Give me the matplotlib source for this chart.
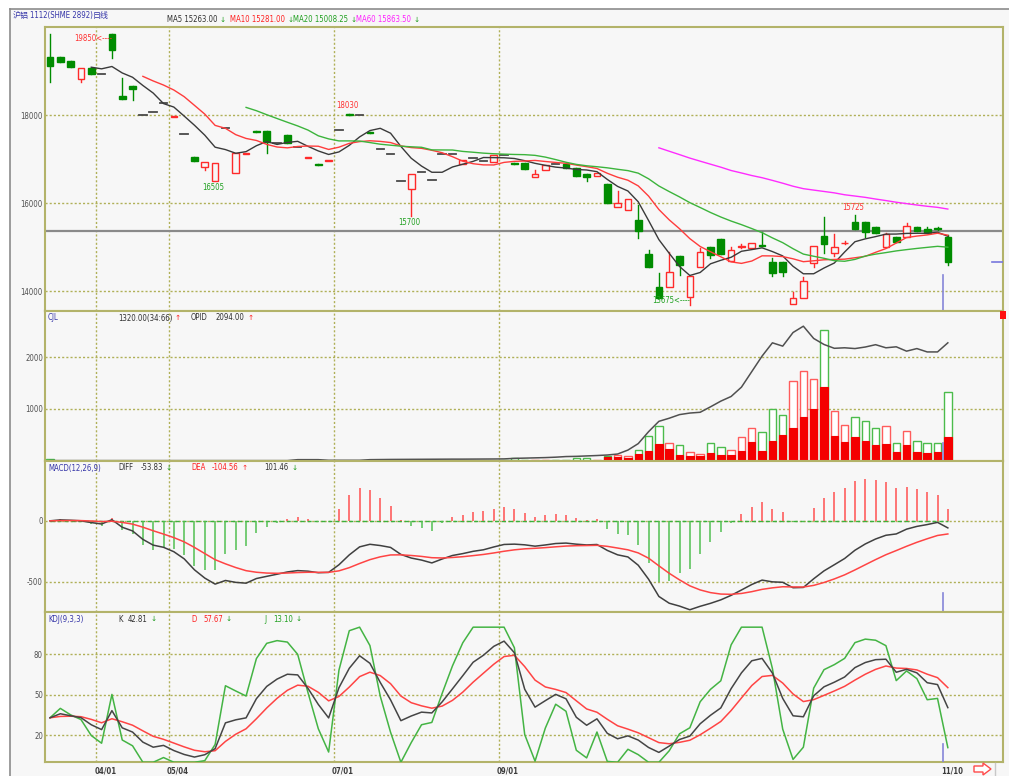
import numpy as np
import matplotlib
matplotlib.use('Agg')
import matplotlib.pyplot as plt
from matplotlib import font_manager
from matplotlib.patches import Rectangle, Polygon
from matplotlib.lines import Line2D
import matplotlib.transforms as mtransforms

# ---------------- data ----------------
opens = [19325, 19325, 19234, 18811, 19061, 18930, 19850, 18432, 18659, 18000,
         18068, 18280, 17950, 17561, 17052, 16818, 16505, 17700, 16689, 17120,
         17630, 17643, 17370, 17545, 17266, 17020, 16890, 16950, 17660, 18030,
         18000, 17610, 17227, 17106, 16507, 16311, 16698, 16523, 17106, 17106,
         16880, 17020, 16960, 16925, 17091, 16910, 16902, 16584, 16750, 16886,
         16886, 16789, 16652, 16614, 16432, 15902, 15841, 15614, 14834, 14098,
         14098, 14795, 13870, 14552, 14993, 15189, 14689, 15000, 14970, 15045,
         14652, 14652, 13705, 13834, 14643, 15250, 14857, 15080, 15575, 15575,
         15448, 15007, 15234, 15220, 15461, 15409, 15430, 15220]
highs = [19841, 19325, 19234, 19075, 19061, 18930, 19850, 18834, 18659, 18000,
         18068, 18280, 17970, 17561, 17052, 16939, 16916, 17700, 17143, 17140,
         17630, 17643, 17370, 17545, 17266, 17040, 16890, 16970, 17660, 18030,
         18000, 17610, 17227, 17106, 16507, 16659, 16698, 16523, 17106, 17106,
         16977, 17020, 16960, 17091, 17091, 16910, 16902, 16750, 16864, 16886,
         16886, 16789, 16652, 16675, 16432, 16280, 16091, 15955, 14932, 14402,
         14893, 14795, 14348, 14970, 14993, 15189, 15000, 15060, 15084, 15348,
         14743, 14652, 13984, 14325, 15023, 15675, 15300, 15140, 15725, 15575,
         15448, 15325, 15234, 15545, 15461, 15460, 15460, 15273]
lows = [18757, 19211, 19098, 18743, 18932, 18930, 19289, 18364, 18341, 18000,
        18068, 18280, 17950, 17561, 16955, 16750, 16505, 17700, 16689, 17120,
        17610, 17143, 17370, 17370, 17266, 17020, 16870, 16950, 17660, 18010,
        18000, 17590, 17227, 17106, 16507, 15700, 16698, 16523, 17106, 17106,
        16880, 17020, 16960, 16925, 17091, 16895, 16773, 16584, 16750, 16886,
        16789, 16614, 16507, 16614, 16007, 15902, 15841, 15198, 14552, 13834,
        14098, 14364, 13675, 14552, 14743, 14841, 14689, 14970, 14970, 15020,
        14341, 14341, 13705, 13834, 14552, 14857, 14800, 15060, 15402, 15220,
        15325, 15007, 15107, 15220, 15364, 15325, 15390, 14590]
closes = [19114, 19211, 19098, 19075, 18932, 18930, 19477, 18364, 18584, 18000,
          18068, 18280, 17970, 17561, 16955, 16939, 16916, 17700, 17143, 17140,
          17610, 17393, 17370, 17370, 17266, 17040, 16870, 16970, 17660, 18010,
          18000, 17590, 17227, 17106, 16507, 16659, 16698, 16523, 17106, 17106,
          16977, 17020, 16960, 17091, 17091, 16895, 16773, 16659, 16864, 16886,
          16789, 16614, 16598, 16675, 16007, 15993, 16091, 15370, 14552, 13834,
          14439, 14591, 14348, 14893, 14818, 14841, 14932, 15030, 15084, 15020,
          14416, 14439, 13848, 14234, 15023, 15068, 15007, 15100, 15402, 15348,
          15325, 15289, 15107, 15477, 15364, 15325, 15400, 14652]
volume = [40, 3, 3, 3, 3, 3, 3, 3, 3, 3,
          3, 3, 3, 3, 3, 3, 3, 3, 3, 3,
          3, 3, 3, 3, 3, 3, 3, 3, 3, 3,
          3, 3, 3, 3, 3, 3, 3, 3, 3, 3,
          3, 3, 3, 3, 12, 45, 8, 8, 8, 8,
          8, 45, 45, 20, 96, 109, 90, 212, 468, 667,
          333, 301, 167, 135, 333, 256, 205, 449, 635, 545,
          1006, 891, 1532, 1724, 1577, 2532, 968, 686, 853, 769,
          628, 673, 340, 571, 378, 346, 333, 1320]
vol_red = [0] * 54 + [64, 70, 45, 128, 192, 314,
                      231, 115, 83, 96, 154, 103, 109, 180, 365, 180,
                      385, 487, 641, 846, 1006, 1417, 468, 353, 449, 385,
                      301, 314, 173, 301, 173, 141, 173, 449]
open_interest = [2] * 24 + [20, 20, 20, 8, 8, 8, 8,
                            20, 22, 24, 25, 26, 27, 28, 29, 30, 30, 31, 32, 33,
                            35, 45, 50, 55, 60, 68, 80, 84, 92, 100,
                            110, 129, 205, 330, 560, 760, 820, 890, 920, 935,
                            1040, 1150, 1240, 1420, 1720, 2020, 2276, 2212, 2475, 2597,
                            2360, 2244, 2170, 2180, 2165, 2195, 2240, 2180, 2199, 2115,
                            2165, 2100, 2100, 2276]
ref_price = 15360
last_price = 14659
month_labels = ['04/01', '05/04', '07/01', '09/01', '11/10']
month_start_idx = [5, 12, 28, 44, 87]
price_ticks = [14000, 16000, 18000]
vol_ticks = [1000, 2000]
macd_ticks = [-500, 0]
kdj_ticks = [20, 50, 80]
title_parts = ['沪铝', '1112(SHME 2892)', '日线']
ma_header = ['MA5 15263.00', 'MA10 15281.00', 'MA20 15008.25', 'MA60 15863.50']
vol_header = ['CJL', '1320.00(34:66)', 'OPID', '2094.00']
macd_header = ['MACD(12,26,9)', 'DIFF', '-53.83', 'DEA', '-104.56', '101.46']
kdj_header = ['KDJ(9,3,3)', 'K', '42.81', 'D', '57.67', 'J', '13.10']
# extreme-price notes: (bar index, 'high'/'low')
price_notes = [(6, 'high'), (16, 'low'), (29, 'high'), (35, 'low'), (62, 'low'), (78, 'high')]

# ---------------- indicators ----------------
O = np.array(opens, float); Hh = np.array(highs, float)
Ll = np.array(lows, float); C = np.array(closes, float)
n = len(C)
x = np.arange(n)


def sma(a, k):
    out = np.full(len(a), np.nan)
    for i in range(k - 1, len(a)):
        out[i] = a[i - k + 1:i + 1].mean()
    return out


def ema(a, k):
    al = 2.0 / (k + 1)
    out = np.empty(len(a)); out[0] = a[0]
    for i in range(1, len(a)):
        out[i] = al * a[i] + (1 - al) * out[i - 1]
    return out


ma5, ma10, ma20, ma60 = sma(C, 5), sma(C, 10), sma(C, 20), sma(C, 60)
diff = ema(C, 12) - ema(C, 26)
dea = ema(diff, 9)
hist = 2 * (diff - dea)
rsv = np.empty(n)
for i in range(n):
    lo = Ll[max(0, i - 8):i + 1].min(); hi = Hh[max(0, i - 8):i + 1].max()
    rsv[i] = 50.0 if hi == lo else (C[i] - lo) / (hi - lo) * 100
K = np.empty(n); D = np.empty(n)
K[0] = D[0] = rsv[0]
for i in range(1, n):
    K[i] = (2 * K[i - 1] + rsv[i]) / 3
    D[i] = (2 * D[i - 1] + K[i]) / 3
J = np.clip(3 * K - 2 * D, 0, 100)

# ---------------- fonts ----------------
entries = font_manager.fontManager.ttflist


def has_font(name, cond=False):
    for e in entries:
        if e.name == name and (not cond or 'condensed' in str(e.stretch)):
            return True
    return False


if has_font('Liberation Sans Narrow'):
    FNAME, STRETCH = 'Liberation Sans Narrow', 'normal'
elif has_font('DejaVu Sans', cond=True):
    FNAME, STRETCH = 'DejaVu Sans', 'condensed'
elif has_font('Liberation Sans'):
    FNAME, STRETCH = 'Liberation Sans', 'normal'
else:
    FNAME, STRETCH = 'DejaVu Sans', 'normal'
FAM = [FNAME, 'DejaVu Sans']
CJK = ['Noto Sans CJK SC', 'DejaVu Sans']

# ---------------- figure ----------------
W, Hpx = 1009, 776
fig = plt.figure(figsize=(W / 100, Hpx / 100), dpi=100)
fig.patch.set_facecolor('white')
renderer = fig.canvas.get_renderer()


def width_px(s, fam, size, weight='normal', stretch='normal'):
    t = fig.text(0, 0, s, fontfamily=fam, fontsize=size, fontweight=weight, fontstretch=stretch)
    w = t.get_window_extent(renderer=renderer).width
    t.remove()
    return w


FS = 10 * 50.5 / width_px('MA5 15263.00', FAM, 10, stretch=STRETCH)
DFS = 10 * 22.0 / width_px('04/01', FAM, 10, weight='bold', stretch=STRETCH)
CFS = 10 * 16.0 / width_px('沪铝', CJK, 10)
AFS = FS * 0.95

BG = '#f7f7f7'
FRAME = '#b3b36a'
GRID = '#b0b058'
RED = '#ff2a2a'
GREEN = '#008c00'
BLUE = '#3535a8'
ARG = '#1a9a1a'
ARR = '#ff2020'


def fx(px):
    return px / W


def fy(py):
    return 1 - py / Hpx


fig.add_artist(Rectangle((fx(10), 0), 1 - fx(10), fy(9), transform=fig.transFigure,
                         facecolor=BG, edgecolor='none', zorder=0))
fig.add_artist(Line2D([fx(10), 1], [fy(9), fy(9)], transform=fig.transFigure, color='#8c8c8c', lw=1.2))
fig.add_artist(Line2D([fx(10), fx(10)], [0, fy(9)], transform=fig.transFigure, color='#8c8c8c', lw=1.2))

LPX, RPX = 45, 1003
XL = ((LPX - 50) / 10.32, (RPX - 50) / 10.32)


def make_ax(top, bottom, ylim, ticks):
    ax = fig.add_axes([fx(LPX), fy(bottom), (RPX - LPX) / W, (bottom - top) / Hpx])
    ax.set_facecolor(BG)
    ax.set_xlim(*XL)
    ax.set_ylim(*ylim)
    ax.set_xticks([])
    ax.set_yticks(ticks)
    ax.set_yticklabels([str(t) for t in ticks], fontfamily=FAM, fontstretch=STRETCH,
                       fontsize=FS, color='#505050')
    ax.tick_params(axis='y', length=0, pad=1.5)
    for s in ax.spines.values():
        s.set_color(FRAME); s.set_linewidth(1.5)
    for t in ticks:
        ax.axhline(t, color=GRID, lw=1.0, ls=(0, (1.5, 1.5)), zorder=1)
    for idx in month_start_idx[:-1]:
        ax.axvline(idx - 0.5, color=GRID, lw=1.0, ls=(0, (1.5, 1.5)), zorder=1)
    return ax


ax_p = make_ax(27, 310.5, (13557, 20000), price_ticks)
ax_v = make_ax(310.5, 460.7, (0, 2900), vol_ticks)
ax_m = make_ax(460.7, 611.5, (-742, 492), macd_ticks)
ax_k = make_ax(611.5, 762, (0.2, 111.6), kdj_ticks)

# ---- price panel ----
ax_p.axhline(ref_price, color='#8a8a8a', lw=1.6, zorder=2)
bw = 0.64
for i in range(n):
    o, h, l, c = O[i], Hh[i], Ll[i], C[i]
    if c > o:
        ax_p.plot([i, i], [c, h], color=RED, lw=1, zorder=3)
        ax_p.plot([i, i], [l, o], color=RED, lw=1, zorder=3)
        ax_p.add_patch(Rectangle((i - bw / 2, o), bw, c - o, facecolor=BG, edgecolor=RED, lw=1, zorder=4))
    elif c < o:
        ax_p.plot([i, i], [l, h], color=GREEN, lw=1, zorder=3)
        ax_p.add_patch(Rectangle((i - bw / 2, c), bw, o - c, facecolor=GREEN, edgecolor=GREEN, lw=1, zorder=4))
    else:
        if h > l:
            ax_p.plot([i, i], [l, h], color='#4a4a4a', lw=1, zorder=3)
        ax_p.plot([i - 0.36, i + 0.36], [c, c], color='#4a4a4a', lw=1.3, zorder=4)

ax_p.plot(x, ma5, color='#3a3a3a', lw=1.0, zorder=5)
ax_p.plot(x, ma10, color='#ff3c3c', lw=1.0, zorder=5)
ax_p.plot(x, ma20, color='#3cb43c', lw=1.0, zorder=5)
ax_p.plot(x, ma60, color='#ff2cff', lw=1.0, zorder=5)

PT = 0.72  # points per pixel
for idx, kind in price_notes:
    if kind == 'high':
        val = highs[idx]; col = '#ff3030'
    else:
        val = lows[idx]; col = '#1fa01f'
    if idx in (6, 62):
        dy = -5 if kind == 'high' else 5
        ax_p.annotate(f'{val}<----', xy=(idx, val), xytext=(0, dy * PT), textcoords='offset points',
                      ha='right', va='center', color=col, fontsize=FS, fontfamily=FAM,
                      fontstretch=STRETCH, zorder=6)
    else:
        dy = 8 if kind == 'high' else -6.5
        ax_p.annotate(f'{val}', xy=(idx, val), xytext=(-2 * PT, dy * PT), textcoords='offset points',
                      ha='center', va='center', color=col, fontsize=FS, fontfamily=FAM,
                      fontstretch=STRETCH, zorder=6)

ax_p.axhline(last_price, xmin=(992 - LPX) / (RPX - LPX), xmax=1, color='#7777dd', lw=1.2, zorder=6)

# ---- volume panel ----
vw = 0.72
for i in range(n):
    ec = '#ff5c5c' if C[i] > O[i] else '#4cbc4c'
    ax_v.add_patch(Rectangle((i - vw / 2, 0), vw, volume[i], facecolor='#ffffff', edgecolor=ec, lw=1, zorder=3))
    if vol_red[i] > 0:
        ax_v.add_patch(Rectangle((i - vw / 2, 0), vw, vol_red[i], facecolor='#f40000', edgecolor='#f40000', lw=0.8, zorder=4))
ax_v.plot(x, open_interest, color='#505050', lw=1.1, zorder=5)

# ---- MACD panel ----
ax_m.plot([0, n - 1], [0, 0], color='#3cb03c', lw=1.0, ls=(0, (3, 2)), zorder=2)
cols = ['#ff5050' if v > 0 else '#52c052' for v in hist]
ax_m.vlines(x, 0, hist, colors=cols, lw=1.1, zorder=3)
ax_m.plot(x, diff, color='#404040', lw=1.1, zorder=4)
ax_m.plot(x, dea, color='#ff4444', lw=1.1, zorder=4)

# ---- KDJ panel ----
ax_k.plot(x, J, color='#44b444', lw=1.1, zorder=3)
ax_k.plot(x, D, color='#ff4444', lw=1.1, zorder=4)
ax_k.plot(x, K, color='#454545', lw=1.1, zorder=5)

# cursor lines
for ax, frac in ((ax_p, 36 / 283.5), (ax_v, 0.12), (ax_m, 0.12), (ax_k, 0.12)):
    ax.axvline(86.5, ymin=0, ymax=frac, color='#8585d8', lw=1.2, zorder=7)

# date labels
trans = mtransforms.blended_transform_factory(ax_k.transData, ax_k.transAxes)
for lab, idx in zip(month_labels, month_start_idx):
    ax_k.text(idx - 0.68, -9.5 / 150.5, lab, transform=trans, ha='left', va='center',
              fontsize=DFS, fontweight='bold', color='#3c3c3c', fontfamily=FAM,
              fontstretch=STRETCH, clip_on=False)


# ---------------- header texts ----------------
def ftext(px, py, s, color='#303030', fam=None, size=None):
    fam = fam or FAM
    size = size or FS
    st = STRETCH if fam is FAM else 'normal'
    t = fig.text(fx(px), fy(py), s, color=color, fontfamily=fam, fontsize=size, fontstretch=st,
                 ha='left', va='center')
    return px + t.get_window_extent(renderer=renderer).width


def arrow(px, py, s, color):
    fig.text(fx(px), fy(py), s, color=color, fontfamily=['DejaVu Sans'], fontsize=AFS,
             ha='left', va='center')


e = ftext(13, 15.5, title_parts[0], BLUE, fam=CJK, size=CFS)
e = ftext(e + 0.5, 15.5, title_parts[1], BLUE)
ftext(e + 0.5, 15.5, title_parts[2], BLUE, fam=CJK, size=CFS)

for sx, s, col in ((167, ma_header[0], '#303030'), (230, ma_header[1], '#ff2020'),
                   (293, ma_header[2], '#20a020'), (356, ma_header[3], '#ff20ff')):
    e = ftext(sx, 20, s, col)
    arrow(e + 2.5, 20, '↓', ARG)

ftext(48, 318, vol_header[0], BLUE)
e = ftext(118, 318, vol_header[1]); arrow(e + 2.5, 318, '↑', ARR)
ftext(191, 318, vol_header[2])
e = ftext(216, 318, vol_header[3]); arrow(e + 3, 318, '↑', ARR)

ftext(48, 468, macd_header[0], BLUE)
ftext(118, 468, macd_header[1])
e = ftext(141, 468, macd_header[2]); arrow(e + 2.5, 468, '↓', ARG)
ftext(191, 468, macd_header[3], '#ff2020')
e = ftext(212, 468, macd_header[4], '#ff2020'); arrow(e + 3, 468, '↑', ARR)
e = ftext(264, 468, macd_header[5]); arrow(e + 3, 468, '↓', ARG)

ftext(48, 619, kdj_header[0], BLUE)
ftext(118, 619, kdj_header[1])
e = ftext(128, 619, kdj_header[2]); arrow(e + 3, 619, '↓', ARG)
ftext(191, 619, kdj_header[3], '#ff2020')
e = ftext(203, 619, kdj_header[4], '#ff2020'); arrow(e + 3, 619, '↓', ARG)
ftext(264, 619, kdj_header[5], '#20a020')
e = ftext(273, 619, kdj_header[6], '#20a020'); arrow(e + 3, 619, '↓', ARG)

# small red marker at volume panel top-right
fig.add_artist(Rectangle((fx(1000), fy(319)), 6 / W, 8 / Hpx, transform=fig.transFigure,
                         facecolor='#ff1010', edgecolor='none', zorder=10))
# scroll arrow bottom-right
pts = [(974, 766), (983, 766), (983, 763), (991, 769), (983, 775), (983, 772), (974, 772)]
fig.add_artist(Polygon([(fx(a), fy(b)) for a, b in pts], closed=True, transform=fig.transFigure,
                       facecolor='white', edgecolor='#ff4a4a', lw=1.0, zorder=10))
fig.add_artist(Line2D([fx(995), fx(995)], [fy(776), fy(763)], transform=fig.transFigure, color='#c8c8c8', lw=1))

fig.savefig('out.png', dpi=100, facecolor='white')
